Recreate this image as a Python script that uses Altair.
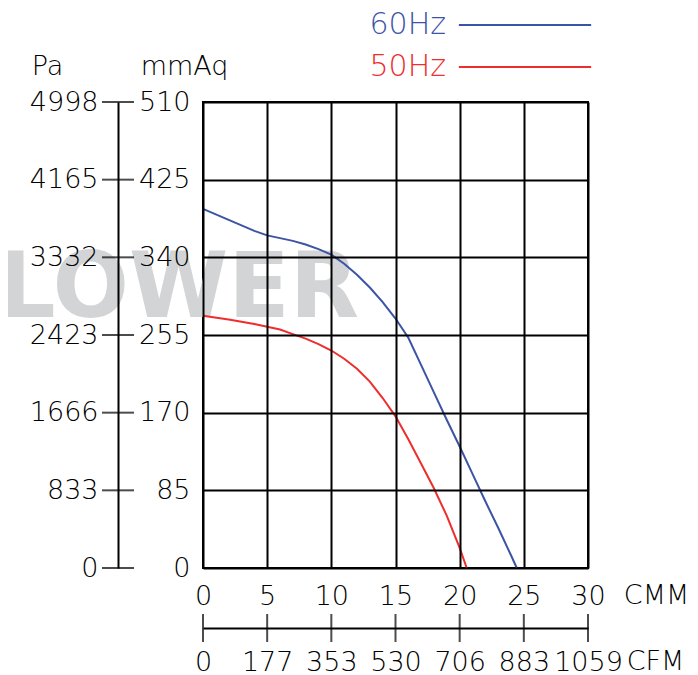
import altair as alt
import pandas as pd

FONT = "DejaVu Sans"
FW = 200
BLUE = "#3c54a6"
RED = "#ee2d2d"
WATERMARK = "LOWER"

series_names = ["60Hz", "50Hz"]
series_colors = [BLUE, RED]

cmm_60 = [0, 1, 2, 3, 4, 5, 6, 7, 8, 9, 10, 11, 12, 13, 14, 15, 16, 17, 18, 19, 20, 21, 22, 23, 24, 24.45]
mmaq_60 = [393, 387, 381, 375, 369, 364, 361, 358, 354, 349, 343, 333, 321, 307, 291, 273, 252, 222, 192, 162, 133, 103, 73, 44, 14, 0]

cmm_50 = [0, 2, 4, 5, 6, 7, 8, 9, 10, 11, 12, 13, 14, 15, 16, 17, 18, 19, 20, 20.55]
mmaq_50 = [276, 272, 267, 264, 261, 256, 251, 245, 238, 229, 218, 204, 186, 166, 141, 114, 87, 57, 22, 0]

cmm_ticks = [0, 5, 10, 15, 20, 25, 30]
cfm_labels = ["0", "177", "353", "530", "706", "883", "1059"]
mmaq_ticks = [0, 85, 170, 255, 340, 425, 510]
pa_labels = ["0", "833", "1666", "2423", "3332", "4165", "4998"]

rows = []
for name, xs, ys in [("60Hz", cmm_60, mmaq_60), ("50Hz", cmm_50, mmaq_50)]:
    for a, b in zip(xs, ys):
        rows.append({"series": name, "cmm": a, "mmaq": b})
df = pd.DataFrame(rows)

def arr_expr(labels, step):
    return "[" + ",".join("'%s'" % s for s in labels) + "][round(datum.value/%d)]" % step

color_expr = "datum.value == '%s' ? '%s' : '%s'" % (series_names[0], series_colors[0], series_colors[1])

xscale = alt.Scale(domain=[0, 30], nice=False, zero=True)
yscale = alt.Scale(domain=[0, 510], nice=False, zero=True)

common_axis = dict(labelFont=FONT, labelFontSize=27, labelFontWeight=FW, labelColor="black",
                   titleFont=FONT, titleFontSize=27, titleFontWeight=FW,
                   titleColor="black", titleAngle=0, titleAlign="center",
                   titleBaseline="middle", labelOverlap=False, labelFlush=False,
                   ticks=False, tickSize=0, zindex=1)

watermark = alt.Chart(alt.Data(values=[{"t": WATERMARK}])).mark_text(
    font="DejaVu Sans", fontWeight="bold", fontSize=90, color="#d3d4d6",
    align="right", baseline="middle"
).encode(text="t:N", x=alt.value(156), y=alt.value(188))

lines = alt.Chart(df).mark_line(strokeWidth=2).encode(
    x=alt.X("cmm:Q", scale=xscale, axis=alt.Axis(
        values=cmm_ticks, grid=True, gridColor="black", gridWidth=2, gridOpacity=1,
        domain=False, labelPadding=15, title="CMM", titleX=453, titleY=27,
        **common_axis)),
    y=alt.Y("mmaq:Q", scale=yscale, axis=alt.Axis(
        values=mmaq_ticks, grid=True, gridColor="black", gridWidth=2, gridOpacity=1,
        domain=False, labelPadding=13, title="mmAq", titleX=-19, titleY=-36,
        **common_axis)),
    color=alt.Color("series:N", scale=alt.Scale(domain=series_names, range=series_colors),
                    legend=alt.Legend(
                        orient="none", legendX=163, legendY=-92, title=None,
                        symbolType="M-5,0H5", symbolSize=700, symbolStrokeWidth=2,
                        symbolOffset=144, labelOffset=alt.ExprRef("-170.5"), labelAlign="left",
                        labelColor=alt.ExprRef(color_expr), labelFontWeight=FW,
                        labelFont=FONT, labelFontSize=30, rowPadding=12, padding=0)),
)

pa_df = pd.DataFrame({"mmaq": mmaq_ticks})
pa_layer = alt.Chart(pa_df).mark_tick(color="black", thickness=2, size=32).encode(
    y=alt.Y("mmaq:Q", scale=yscale, axis=alt.Axis(
        orient="left", offset=85, values=mmaq_ticks, grid=False,
        domain=True, domainColor="black", domainWidth=2,
        labelPadding=20, labelExpr=arr_expr(pa_labels, 85),
        title="Pa", titleX=-71, titleY=-36, **common_axis)),
    x=alt.value(-85),
)

cfm_df = pd.DataFrame({"cmm": cmm_ticks})
cfm_layer = alt.Chart(cfm_df).mark_tick(color="black", thickness=2, size=28).encode(
    x=alt.X("cmm:Q", scale=xscale, axis=alt.Axis(
        orient="bottom", offset=60, values=cmm_ticks, grid=False,
        domain=True, domainColor="black", domainWidth=2,
        labelPadding=21, labelExpr=arr_expr(cfm_labels, 5),
        title="CFM", titleX=452, titleY=33, **common_axis)),
    y=alt.value(526),
)

chart = alt.layer(watermark, lines, pa_layer, cfm_layer).resolve_axis(
    x="independent", y="independent"
).properties(
    width=385, height=466,
    padding={"left": 195, "top": 94, "right": 102, "bottom": 107},
    autosize=alt.AutoSizeParams(type="none"),
).configure_view(stroke="black", strokeWidth=2)

chart.save("out.html", embed_options={"renderer": "svg", "actions": False})
